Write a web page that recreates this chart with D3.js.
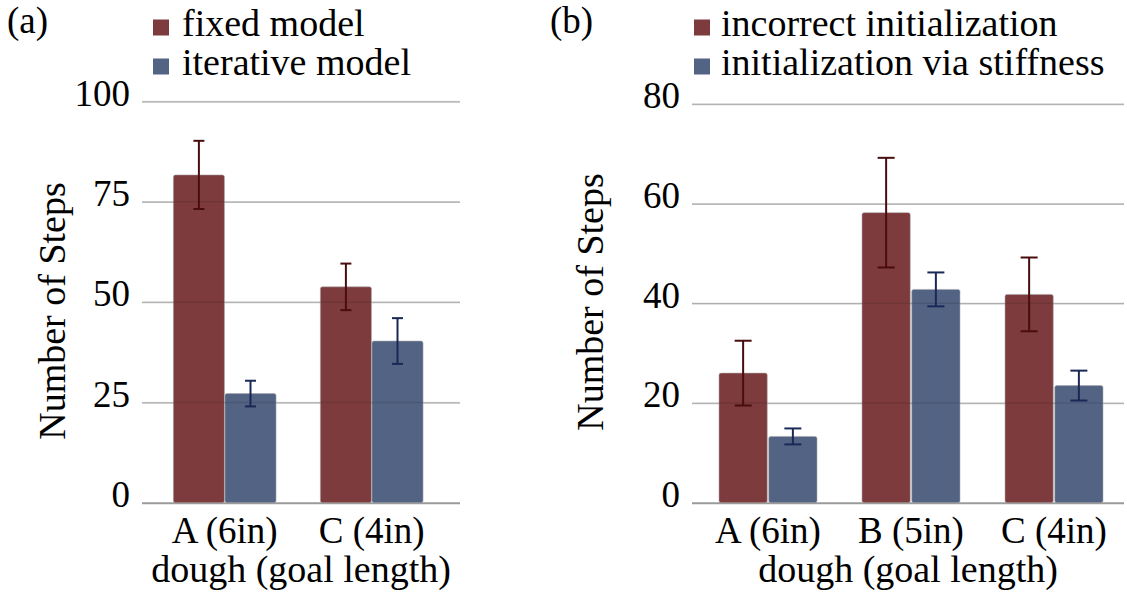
<!DOCTYPE html>
<html>
<head>
<meta charset="utf-8">
<script src="https://cdn.jsdelivr.net/npm/d3@7"></script>
<style>
  svg text, svg .tick text, #chart text { font-family: "Liberation Serif", "Times New Roman", serif !important; }
</style>
</head>
<body style="margin:0">
<svg id="chart" width="1127" height="603"></svg>
<script>
// ---- Data: panel (a)
const catsA = ["A (6in)", "C (4in)"];
const seriesA = ["fixed model", "iterative model"];
const fixedModel = [81.7, 53.8];
const fixedModelErr = [8.5, 5.8];
const iterativeModel = [27.2, 40.3];
const iterativeModelErr = [3.2, 5.7];
const ticksA = [0, 25, 50, 75, 100];

// ---- Data: panel (b)
const catsB = ["A (6in)", "B (5in)", "C (4in)"];
const seriesB = ["incorrect initialization", "initialization via stiffness"];
const incorrectInit = [26.0, 58.2, 41.8];
const incorrectInitErr = [6.5, 11.0, 7.4];
const stiffnessInit = [13.3, 42.8, 23.5];
const stiffnessInitErr = [1.6, 3.4, 3.0];
const ticksB = [0, 20, 40, 60, 80];

const xTitle = "dough (goal length)";
const yTitle = "Number of Steps";

const colors = ["#7d3b3d", "#536383"];
const errColors = ["#4a0d0f", "#1a2857"];
const FONT = `"Liberation Serif", "Times New Roman", serif`;

const svg = d3.select("#chart");

function serifText(sel, size) {
  sel.style("font-family", FONT, "important")
     .style("font-size", size + "px")
     .attr("fill", "#000");
}

function panel(opts) {
  const g = svg.append("g");
  const y = d3.scaleLinear().domain(opts.yDomain).range([502.7, opts.yTop]);
  const x0 = d3.scaleBand().domain(opts.cats).range(opts.xRange).padding(0);
  const x1 = d3.scaleBand().domain(opts.series).range([0, opts.groupW]).paddingInner(opts.innerPad);
  const gridL = opts.gridX[0], gridR = opts.gridX[1];

  // y axis with gridlines
  const yAxis = d3.axisLeft(y).tickValues(opts.ticks).tickSize(-(gridR - gridL)).tickPadding(12).tickFormat(d3.format("d"));
  const ya = g.append("g").attr("transform", `translate(${gridL},0)`).call(yAxis);
  ya.attr("font-family", FONT).attr("font-size", 37);
  ya.select(".domain").remove();
  ya.selectAll(".tick line")
    .attr("stroke", d => d === 0 ? "#9a9a9a" : "#c2c2c2")
    .attr("stroke-width", d => d === 0 ? 2 : 1.5);
  ya.selectAll(".tick text").attr("dy", "0.1em").call(serifText, 37);

  // bars
  const data = [];
  opts.cats.forEach((c, i) => {
    opts.series.forEach((s, j) => {
      data.push({cat: c, ser: s, j: j, v: opts.values[j][i], e: opts.errs[j][i]});
    });
  });
  const off = (x0.bandwidth() - opts.groupW) / 2;
  const bx = d => x0(d.cat) + off + x1(d.ser);
  g.append("g").selectAll("rect").data(data).join("rect")
    .attr("x", bx)
    .attr("y", d => y(d.v))
    .attr("width", x1.bandwidth())
    .attr("height", d => y(0) - y(d.v))
    .attr("rx", 2)
    .attr("fill", d => colors[d.j])
    .attr("stroke", "rgba(170,170,170,0.55)")
    .attr("stroke-width", 1);

  // faint gridlines through bars
  g.append("g").selectAll("line").data(opts.ticks.filter(t => t !== 0)).join("line")
    .attr("x1", gridL).attr("x2", gridR)
    .attr("y1", d => y(d)).attr("y2", d => y(d))
    .attr("stroke", "rgba(0,0,0,0.10)").attr("stroke-width", 1.5);

  // error bars
  const eg = g.append("g").selectAll("g").data(data).join("g")
    .attr("stroke", d => errColors[d.j]).attr("stroke-width", 2);
  const cx = d => bx(d) + x1.bandwidth() / 2;
  eg.append("line").attr("x1", cx).attr("x2", cx)
    .attr("y1", d => y(d.v + d.e)).attr("y2", d => y(d.v - d.e));
  eg.append("line").attr("x1", d => cx(d) - opts.cap / 2).attr("x2", d => cx(d) + opts.cap / 2)
    .attr("y1", d => y(d.v + d.e)).attr("y2", d => y(d.v + d.e));
  eg.append("line").attr("x1", d => cx(d) - opts.cap / 2).attr("x2", d => cx(d) + opts.cap / 2)
    .attr("y1", d => y(d.v - d.e)).attr("y2", d => y(d.v - d.e));

  // x axis labels
  const xAxis = d3.axisBottom(x0).tickSize(0).tickPadding(0);
  const xa = g.append("g").attr("transform", `translate(0,${y(0)})`).call(xAxis);
  xa.attr("font-family", FONT).attr("font-size", 37);
  xa.select(".domain").remove();
  xa.selectAll(".tick text").attr("y", 40.5).attr("dy", 0).call(serifText, 37);

  // axis titles
  g.append("text").attr("x", (gridL + gridR) / 2).attr("y", 582)
    .attr("text-anchor", "middle").call(serifText, 38).text(xTitle);
  g.append("text")
    .attr("transform", `translate(${opts.yTitleX},${opts.yTitleY}) rotate(-90)`)
    .attr("text-anchor", "middle").call(serifText, 38).text(yTitle);

  // panel label
  g.append("text").attr("x", opts.labelX).attr("y", 33).call(serifText, 37).text(opts.label);

  // legend
  const lg = g.append("g").selectAll("g").data(opts.series).join("g")
    .attr("transform", (d, i) => `translate(${opts.legX},${i * 39})`);
  lg.append("rect").attr("x", 0).attr("y", 19.5).attr("width", 16).attr("height", 16)
    .attr("fill", (d, i) => colors[i]);
  lg.append("text").attr("x", opts.legTextDx).attr("y", 36)
    .call(serifText, 38).text(d => d);
}

panel({
  cats: catsA, series: seriesA,
  values: [fixedModel, iterativeModel], errs: [fixedModelErr, iterativeModelErr],
  ticks: ticksA, yDomain: [0, 100], yTop: 101.5,
  xRange: [151.2, 445.2], groupW: 102.7, innerPad: 0.01,
  gridX: [142, 460], cap: 11,
  yTitleX: 65, yTitleY: 311,
  label: "(a)", labelX: 7,
  legX: 153, legTextDx: 29
});

panel({
  cats: catsB, series: seriesB,
  values: [incorrectInit, stiffnessInit], errs: [incorrectInitErr, stiffnessInitErr],
  ticks: ticksB, yDomain: [0, 80], yTop: 104,
  xRange: [696.5, 1125.5], groupW: 98, innerPad: 0.03,
  gridX: [692, 1124], cap: 17,
  yTitleX: 603, yTitleY: 302,
  label: "(b)", labelX: 550,
  legX: 694, legTextDx: 27
});
</script>
</body>
</html>
